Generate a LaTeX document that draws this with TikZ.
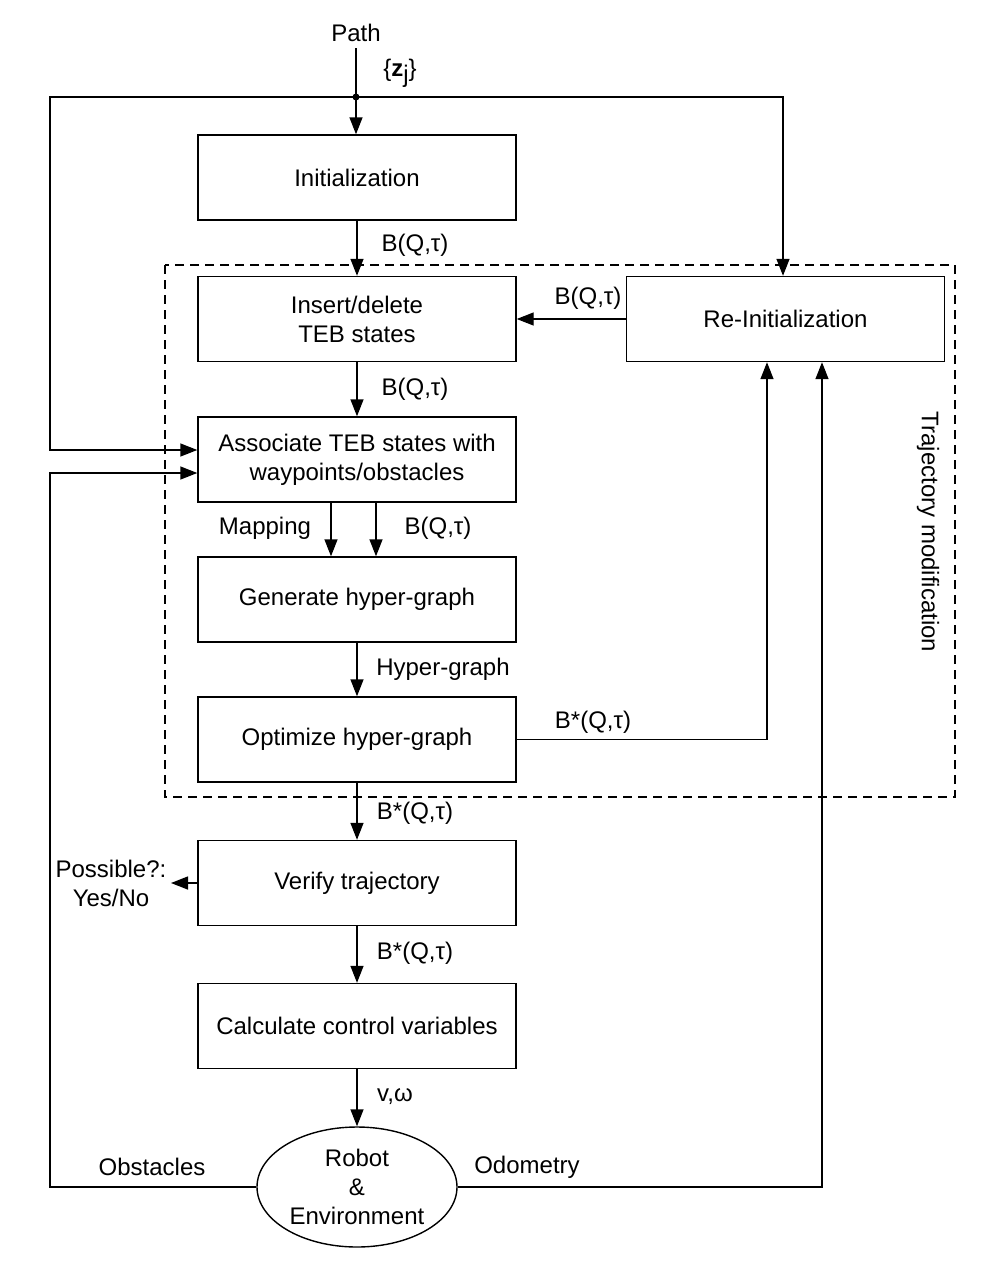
\documentclass[tikz,border=0pt]{standalone}
\usepackage{fontspec}
\setmainfont{Liberation Sans}
\usetikzlibrary{arrows.meta,shapes.geometric}
\begin{document}
\begin{tikzpicture}[x=1pt,y=-1pt,
  font=\fontsize{24}{29}\selectfont,
  line width=1.4pt,
  arr/.style={-{Triangle[length=17pt,width=13pt]}},
  box/.style={draw,minimum width=318pt,minimum height=85pt,align=center,inner sep=0pt},
  lbl/.style={inner sep=0pt,align=center}]
\useasboundingbox (0,0) rectangle (990,1286);
% dashed region
\draw[dash pattern=on 9pt off 6pt] (165,265) rectangle (955,797);
\node[lbl,rotate=-90] (tm) at (928,532) {Trajectory modification};
% boxes
\node[box] (init) at (357,177.5) {Initialization};
\node[box] (ins) at (357,319) {Insert/delete\\TEB states};
\node[box] (reinit) at (785.5,319) {Re-Initialization};
\node[box] (assoc) at (357,459.5) {Associate TEB states with\\waypoints/obstacles};
\node[box] (gen) at (357,599.5) {Generate hyper-graph};
\node[box] (opt) at (357,739.5) {Optimize hyper-graph};
\node[box] (ver) at (357,883) {Verify trajectory};
\node[box] (calc) at (357,1026) {Calculate control variables};
\node[draw,ellipse,minimum width=200pt,minimum height=120pt,align=center,inner sep=0pt] (robot) at (357,1187) {Robot\\\&\\Environment};
% path input
\node[lbl] (path) at (356,33) {Path};
\coordinate (pathend) at (356,48);
\coordinate (split) at (356,97);
\fill (split) circle (3.5pt);
\node[lbl] (zj) at (400,73) {\{\textbf{z}\raisebox{-6pt}{j}\}};
\draw[arr] (pathend) -- (init.north -| pathend);
\coordinate (tl) at (50,97);
\coordinate (tr) at (783,97);
\draw[arr] (split) -- (tr) -- (reinit.north -| tr);
\draw[arr] (split) -- (tl) -- (50,450) -- (assoc.west |- 0,450);
% main flow
\draw[arr] (init.south) -- (ins.north);
\node[lbl] at (415,245) {B(Q,τ)};
\draw[arr] (reinit.west) -- (ins.east);
\node[lbl] at (588,298) {B(Q,τ)};
\draw[arr] (ins.south) -- (assoc.north);
\node[lbl] at (415,389) {B(Q,τ)};
\draw[arr] (assoc.south -| 331,0) -- (gen.north -| 331,0);
\draw[arr] (assoc.south -| 376,0) -- (gen.north -| 376,0);
\node[lbl] at (265,528) {Mapping};
\node[lbl] at (438,528) {B(Q,τ)};
\draw[arr] (gen.south) -- (opt.north);
\node[lbl] at (443,669) {Hyper-graph};
\draw[arr] (opt.east) -- (767,739.5) -- (reinit.south -| 767,0);
\node[lbl] at (593,722) {B*(Q,τ)};
\draw[arr] (opt.south) -- (ver.north);
\node[lbl] at (415,813) {B*(Q,τ)};
\node[lbl] (poss) at (111,883) {Possible?:\\Yes/No};
\draw[arr] (ver.west) -- (171,883);
\draw[arr] (ver.south) -- (calc.north);
\node[lbl] at (415,953) {B*(Q,τ)};
\draw[arr] (calc.south) -- (robot.north);
\node[lbl] at (395,1097) {v,ω};
% feedback
\draw[arr] (robot.west) -- (50,1187) -- (50,473) -- (assoc.west |- 0,473);
\node[lbl] at (152,1167) {Obstacles};
\draw[arr] (robot.east) -- (822,1187) -- (reinit.south -| 822,0);
\node[lbl] at (527,1167) {Odometry};
\end{tikzpicture}
\end{document}
